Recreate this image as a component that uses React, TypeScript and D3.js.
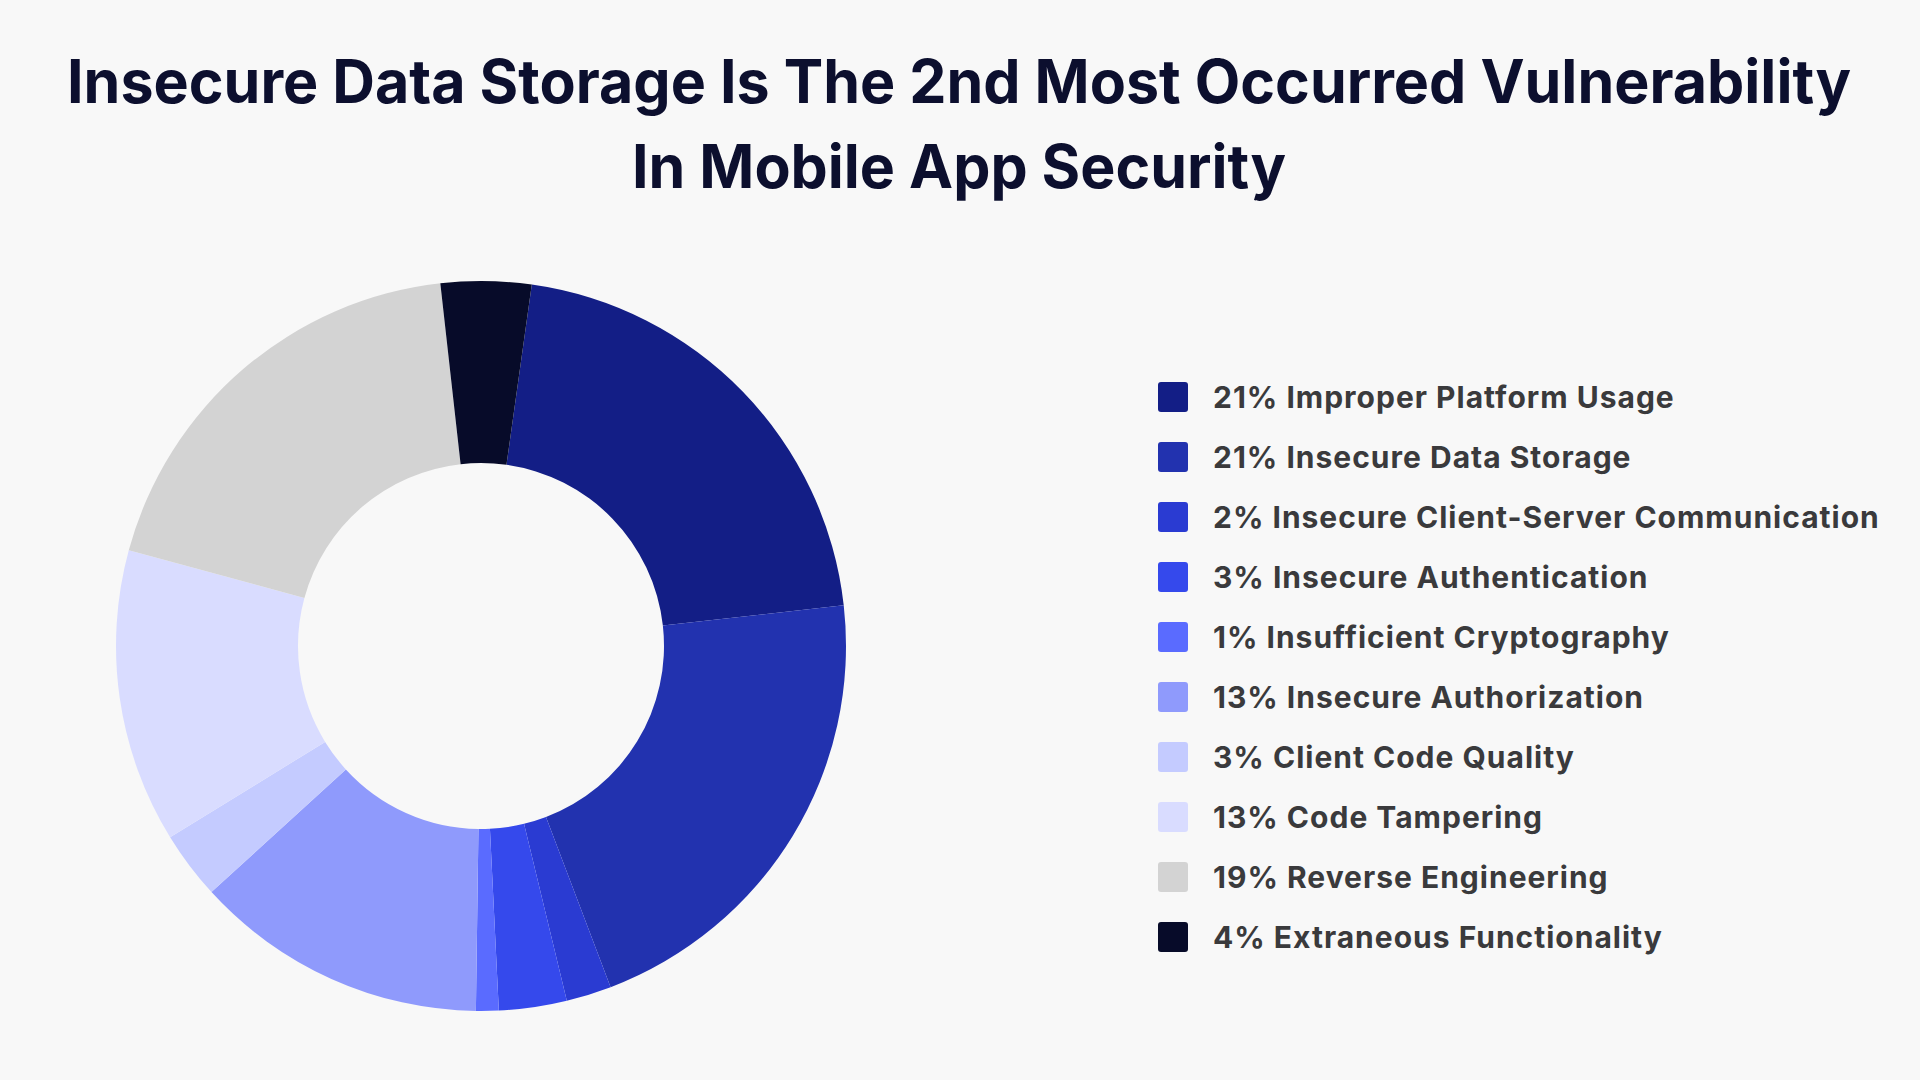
import * as d3 from "d3";

const W = 1920;
const H = 1080;

const titleLines = [
  "Insecure Data Storage Is The 2nd Most Occurred Vulnerability",
  "In Mobile App Security",
];

const categories = [
  "Improper Platform Usage",
  "Insecure Data Storage",
  "Insecure Client-Server Communication",
  "Insecure Authentication",
  "Insufficient Cryptography",
  "Insecure Authorization",
  "Client Code Quality",
  "Code Tampering",
  "Reverse Engineering",
  "Extraneous Functionality",
];

const shares = [21, 21, 2, 3, 1, 13, 3, 13, 19, 4];

const colors = [
  "#131e86",
  "#2232af",
  "#2a3bd2",
  "#3549ec",
  "#5a6bff",
  "#8f9afc",
  "#c4cbff",
  "#d9dcff",
  "#d3d3d3",
  "#070b29",
];

const CX = 481;
const CY = 646;
const R_OUT = 365;
const R_IN = 183;
const START = (8 * Math.PI) / 180;

const LEG_X = 1158;
const LEG_Y = 397;
const LEG_STEP = 60;
const SW = 30;

export default function App() {
  const pie = d3
    .pie<number>()
    .sort(null)
    .value((d) => d)
    .startAngle(START)
    .endAngle(START + Math.PI * 2);

  const arc = d3.arc<d3.PieArcDatum<number>>().innerRadius(R_IN).outerRadius(R_OUT);

  const slices = pie(shares);

  const rowY = d3
    .scalePoint<number>()
    .domain(d3.range(categories.length))
    .range([LEG_Y, LEG_Y + LEG_STEP * (categories.length - 1)]);

  return (
    <svg
      width={W}
      height={H}
      viewBox={`0 0 ${W} ${H}`}
      style={{ position: "absolute", left: 0, top: 0, display: "block" }}
    >
      <rect width={W} height={H} fill="#f8f8f8" />

      <g fontFamily="Inter, 'Noto Sans', sans-serif" fontWeight={700} fill="#0c0f2e" textAnchor="middle">
        <text x={959} y={103} fontSize={60} textLength={1784} lengthAdjust="spacingAndGlyphs">
          {titleLines[0]}
        </text>
        <text x={959} y={188} fontSize={60} textLength={654} lengthAdjust="spacingAndGlyphs">
          {titleLines[1]}
        </text>
      </g>

      <g transform={`translate(${CX},${CY})`}>
        {slices.map((s, i) => (
          <path key={categories[i]} d={arc(s) ?? ""} fill={colors[i]} />
        ))}
      </g>

      <g
        fontFamily="Inter, 'Noto Sans', sans-serif"
        fontWeight={700}
        fontSize={30}
        letterSpacing={1}
        fill="#3a3a3c"
      >
        {categories.map((c, i) => {
          const y = rowY(i) ?? 0;
          return (
            <g key={c}>
              <rect x={LEG_X} y={y - SW / 2} width={SW} height={SW} rx={3} fill={colors[i]} />
              <text x={LEG_X + 55} y={y} dy="0.36em">
                {`${shares[i]}% ${c}`}
              </text>
            </g>
          );
        })}
      </g>
    </svg>
  );
}
